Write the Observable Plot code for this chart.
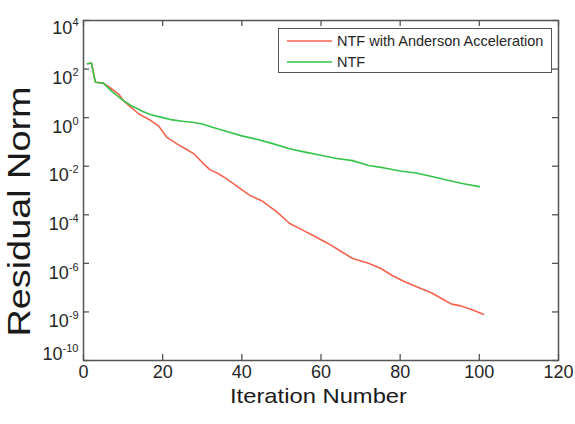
<!DOCTYPE html>
<html><head><meta charset="utf-8">
<script src="https://cdn.jsdelivr.net/npm/d3@7"></script>
<script src="https://cdn.jsdelivr.net/npm/@observablehq/plot@0.6"></script>
<style>
body{margin:0;background:#fff;font-family:"Liberation Sans",Arial,sans-serif;}
#wrap{position:relative;width:575px;height:424px;}
#legend{position:absolute;left:278px;top:28px;width:272px;height:43px;border:1px solid #555;background:#fff;}
#legend svg{position:absolute;left:0;top:0;}
</style></head><body><div id="wrap"></div>
<script>
// Series (iteration number, log10 of residual norm)
const seriesNames = ["NTF with Anderson Acceleration", "NTF"];
const seriesColors = ["#f5634f", "#35c44a"];
const aaIter = [1,2,3,5,7,9,10,12,14,17,19,21,24,26,28,30,32,34,36,39,42,45,49,52,55,58,62,65,68,72,75,78,81,84,88,91,93,95,98,101];
const aaLog10 = [2.22,2.25,1.46,1.42,1.2,0.95,0.71,0.42,0.15,-0.12,-0.35,-0.8,-1.12,-1.3,-1.5,-1.85,-2.15,-2.3,-2.5,-2.85,-3.2,-3.42,-3.9,-4.35,-4.6,-4.85,-5.2,-5.5,-5.8,-6.0,-6.2,-6.5,-6.75,-6.95,-7.22,-7.5,-7.68,-7.74,-7.9,-8.1];
const ntfIter = [1,2,3,5,7,10,12,15,17,20,22,25,28,30,33,36,40,44,48,52,56,60,64,68,72,76,80,84,88,92,96,100];
const ntfLog10 = [2.22,2.25,1.46,1.42,1.1,0.71,0.5,0.25,0.12,0.0,-0.08,-0.15,-0.2,-0.26,-0.42,-0.56,-0.75,-0.9,-1.08,-1.28,-1.42,-1.55,-1.68,-1.77,-1.97,-2.07,-2.2,-2.28,-2.42,-2.58,-2.72,-2.84];
const xTicks = [0,20,40,60,80,100,120];
const yTickValues = [1e4,1e2,1e0,1e-2,1e-4,1e-6,1e-8,1e-10];
const yTickLabels = ["10^4","10^2","10^0","10^-2","10^-4","10^-6","10^-9","10^-10"];
const xTitle = "Iteration Number";
const yTitle = "Residual Norm";

const data = [
  ...aaIter.map((x, i) => ({series: seriesNames[0], x, y: Math.pow(10, aaLog10[i])})),
  ...ntfIter.map((x, i) => ({series: seriesNames[1], x, y: Math.pow(10, ntfLog10[i])}))
];

const font = '"Liberation Sans", Arial, sans-serif';
const axisColor = "#555";

const chart = Plot.plot({
  width: 575, height: 424,
  marginLeft: 83, marginRight: 17, marginTop: 20, marginBottom: 64,
  style: {fontFamily: font, fontSize: "18px", color: "#262626", background: "#fff"},
  x: {domain: [0, 120], label: null},
  y: {type: "log", domain: [1e-10, 1e4], axis: null, label: null},
  color: {domain: seriesNames, range: seriesColors},
  marks: [
    Plot.line(data, {x: "x", y: "y", z: "series", stroke: "series", strokeWidth: 1.6}),
    Plot.frame({stroke: axisColor, strokeWidth: 1.5}),
    Plot.ruleX(xTicks, {x: d => d, insetTop: 334, stroke: axisColor, strokeWidth: 1.3}),
    Plot.ruleX(xTicks, {x: d => d, insetBottom: 334, stroke: axisColor, strokeWidth: 1.3}),
    Plot.ruleY(yTickValues, {y: d => d, insetRight: 469, stroke: axisColor, strokeWidth: 1.3}),
    Plot.ruleY(yTickValues, {y: d => d, insetLeft: 469, stroke: axisColor, strokeWidth: 1.3}),
    Plot.axisX(xTicks, {tickSize: 0, tickPadding: 5, fontSize: 18, label: null, tickFormat: d => String(d)}),
    Plot.text(yTickValues, {y: d => d, frameAnchor: "left", text: (d, i) => yTickLabels[i], textAnchor: "end", dx: -5, fontSize: 18, fill: "#262626"}),
    Plot.text([xTitle], {frameAnchor: "bottom", textAnchor: "middle", lineAnchor: "middle", dx: -2.5, dy: 36, fontSize: 21, fill: "#1a1a1a"}),
    Plot.text([yTitle], {frameAnchor: "left", textAnchor: "middle", lineAnchor: "middle", rotate: -90, dx: -63, dy: 21, fontSize: 31, fill: "#1a1a1a"})
  ]
});

// the three text marks, in order: y tick labels, x title, y title
const NS = "http://www.w3.org/2000/svg";
const textGroups = chart.querySelectorAll('g[aria-label="text"]');
if (textGroups.length >= 3) {
  textGroups[0].querySelectorAll("text").forEach((t, i) => {
    const [base, exp] = yTickLabels[i].split("^");
    t.textContent = "";
    const n = yTickLabels.length;
    t.setAttribute("dy", i === 0 ? "8" : i === n - 1 ? "-6.6" : "9.4");
    t.append(base);
    const s = document.createElementNS(NS, "tspan");
    s.setAttribute("dy", "-8");
    s.setAttribute("font-size", "11");
    s.textContent = exp;
    t.append(s);
  });
  const xt = textGroups[1].querySelector("text");
  xt.setAttribute("textLength", "177"); xt.setAttribute("lengthAdjust", "spacingAndGlyphs");
  const yt = textGroups[2].querySelector("text");
  yt.setAttribute("textLength", "250"); yt.setAttribute("lengthAdjust", "spacingAndGlyphs");
}

const wrap = document.getElementById("wrap");
wrap.append(chart);

// legend (inside the axes, top right)
const legend = document.createElement("div");
legend.id = "legend";
const lsvg = d3.create("svg").attr("width", 272).attr("height", 43);
seriesNames.forEach((name, i) => {
  const cy = 12 + i * 21;
  lsvg.append("line").attr("x1", 8).attr("x2", 53).attr("y1", cy).attr("y2", cy)
    .attr("stroke", seriesColors[i]).attr("stroke-width", 1.6);
  lsvg.append("text").attr("x", 58).attr("y", cy).attr("dy", "0.35em")
    .attr("font-family", font).attr("font-size", 14.5).attr("fill", "#262626").text(name);
});
legend.append(lsvg.node());
wrap.append(legend);
</script>
</body></html>
